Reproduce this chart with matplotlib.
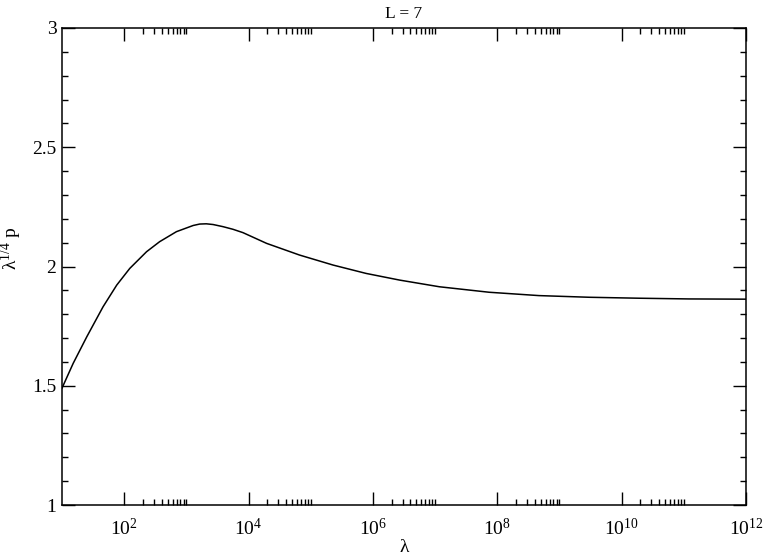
import matplotlib
matplotlib.use("Agg")
import matplotlib.pyplot as plt
import numpy as np

# Curve: log10(lambda) and lambda^(1/4) p
log_lam = [1.0, 1.18, 1.40, 1.66, 1.88, 2.09, 2.36, 2.57, 2.84, 3.11, 3.215,
           3.32, 3.43, 3.59, 3.75, 3.91, 4.29, 4.82, 5.36, 5.89, 6.43, 7.07,
           7.87, 8.67, 9.48, 10.28, 11.08, 12.0]
p_scaled = [1.490, 1.594, 1.706, 1.831, 1.922, 1.992, 2.062, 2.104, 2.146,
            2.172, 2.178, 2.179, 2.176, 2.167, 2.156, 2.142, 2.097, 2.048,
            2.006, 1.971, 1.943, 1.915, 1.892, 1.878, 1.871, 1.867, 1.864,
            1.863]

major_exps = [2, 4, 6, 8, 10, 12]
y_major = [1, 1.5, 2, 2.5, 3]
y_labels = ["1", "1.5", "2", "2.5", "3"]

plt.rcParams["font.family"] = ["Liberation Serif", "DejaVu Serif"]
plt.rcParams["mathtext.fontset"] = "custom"
plt.rcParams["mathtext.rm"] = "Liberation Serif"
plt.rcParams["mathtext.it"] = "Liberation Serif:italic"


def main():
    fig = plt.figure(figsize=(7.63, 5.57), dpi=100)
    ax = fig.add_axes([62 / 763, 52 / 557, 684 / 763, 477 / 557])

    lam = np.power(10.0, log_lam)
    ax.plot(lam, p_scaled, color="black", lw=1.1)

    ax.set_xscale("log")
    ax.set_xlim(1e1, 1e12)
    ax.set_ylim(1, 3)

    # grace-style ticks: major every two decades, minor at 2..10 x major
    ax.set_xticks([10.0 ** e for e in major_exps])
    ax.set_xticklabels([r"$\mathrm{10^{%d}}$" % e for e in major_exps])
    minor = [k * 10.0 ** e for e in major_exps[:-1] for k in range(2, 11)]
    ax.set_xticks(minor, minor=True)
    ax.set_xticklabels([], minor=True)

    ax.set_yticks(y_major)
    ax.set_yticklabels(y_labels)
    ax.set_yticks(np.arange(1.1, 3.0, 0.1), minor=True)

    ax.tick_params(which="both", direction="in", top=True, right=True,
                   width=1.0, colors="black", labelsize=14)
    ax.tick_params(which="major", length=9.5)
    ax.tick_params(axis="x", which="major", pad=9)
    ax.tick_params(axis="y", which="major", pad=4)
    ax.tick_params(which="minor", length=4.5)
    for s in ax.spines.values():
        s.set_linewidth(1.1)

    ax.set_title("L = 7", fontsize=12.5, pad=7)
    ax.set_xlabel("λ", fontsize=14)
    ax.xaxis.set_label_coords(0.5, -0.071)
    ax.set_ylabel(r"$\mathrm{λ^{1/4}\ p}$", fontsize=14)
    ax.yaxis.set_label_coords(-0.056, 0.537)

    plt.savefig("out.png", dpi=100)
    plt.close()


if __name__ == "__main__":
    main()
